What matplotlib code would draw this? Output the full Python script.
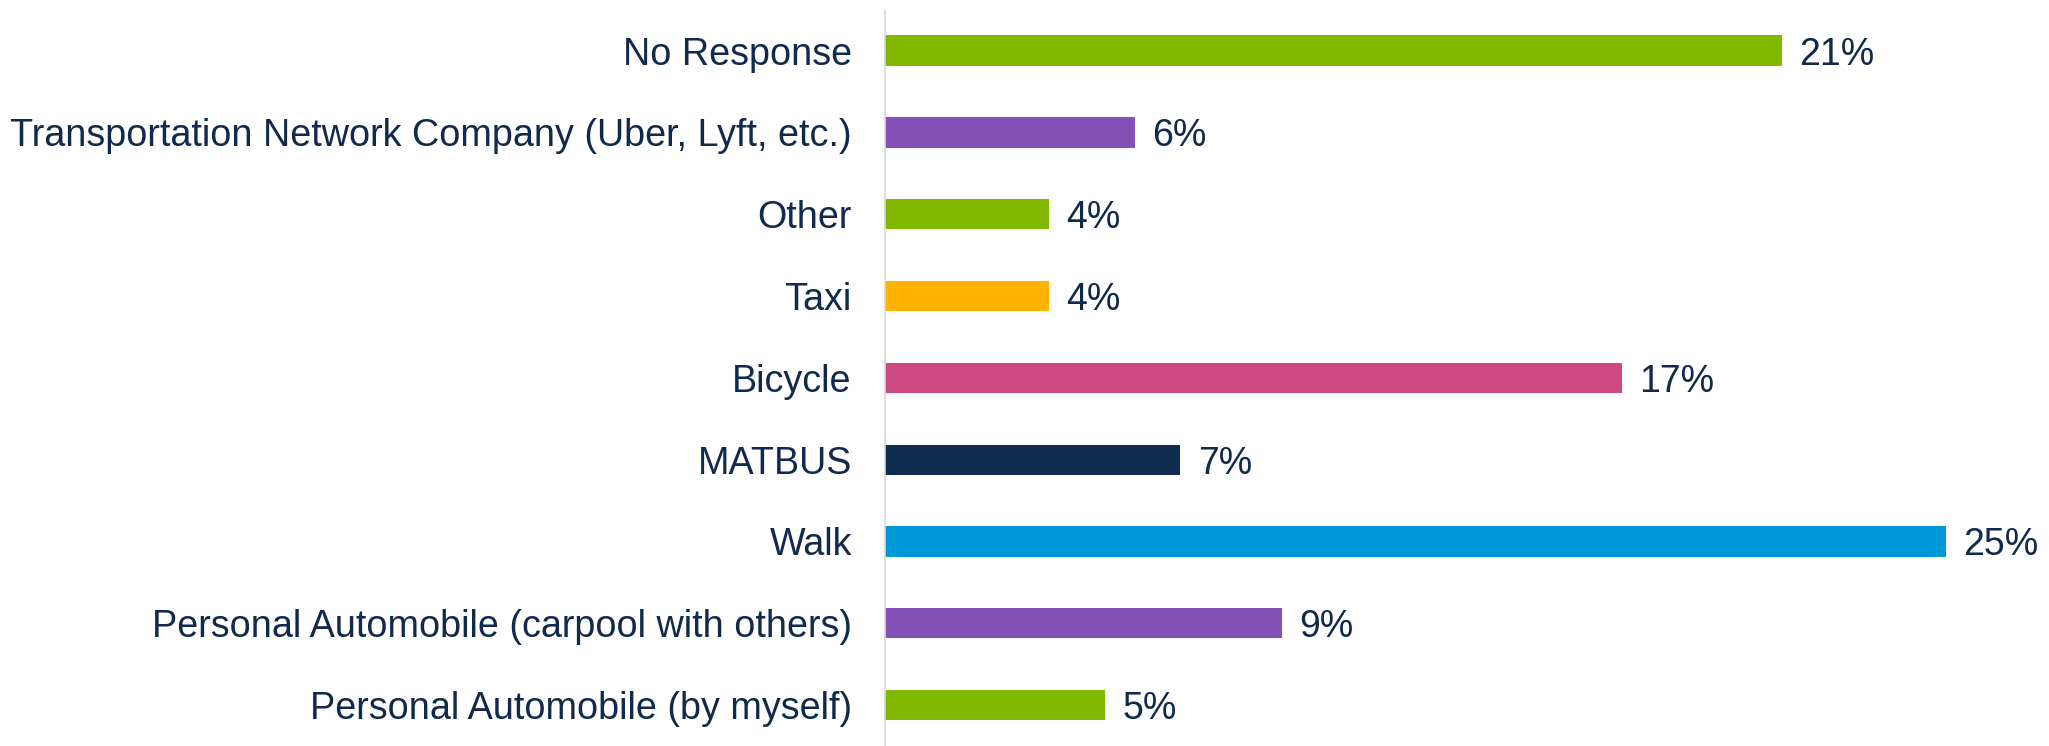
import matplotlib
matplotlib.use("Agg")
import matplotlib.pyplot as plt

# categories listed bottom to top
categories = [
    "Personal Automobile (by myself)",
    "Personal Automobile (carpool with others)",
    "Walk",
    "MATBUS",
    "Bicycle",
    "Taxi",
    "Other",
    "Transportation Network Company (Uber, Lyft, etc.)",
    "No Response",
]
shares = [5.1, 9.2, 24.6, 6.85, 17.1, 3.8, 3.8, 5.8, 20.8]
colors = ["#80B900", "#8350B6", "#0098D9", "#0F2B50", "#CC4A80",
          "#FFB300", "#80B900", "#8350B6", "#80B900"]

TEXT = "#10294D"
plt.rcParams["font.family"] = ["Liberation Sans", "DejaVu Sans"]

fig = plt.figure(figsize=(20.49, 7.46), dpi=100)
ax = fig.add_axes([0.432, 0.0, 0.548, 0.987])

ypos = range(len(categories))
ax.barh(ypos, shares, height=0.37, color=colors)
for y, v in zip(ypos, shares):
    ax.text(v + 0.4, y, f"{v:.0f}%", va="center_baseline", ha="left",
            fontsize=27, color=TEXT)

ax.set_yticks(list(ypos))
ax.set_yticklabels(categories, fontsize=27.2, color=TEXT,
                   va="center_baseline")
ax.tick_params(axis="y", length=0, pad=24)
ax.set_ylim(-0.5, len(categories) - 0.5)
ax.set_xlim(0, 26.05)
ax.set_xticks([])
for side in ["top", "right", "bottom"]:
    ax.spines[side].set_visible(False)
ax.spines["left"].set_color("#D9D9D9")
ax.spines["left"].set_linewidth(1.2)

fig.savefig("out.png", dpi=100)
